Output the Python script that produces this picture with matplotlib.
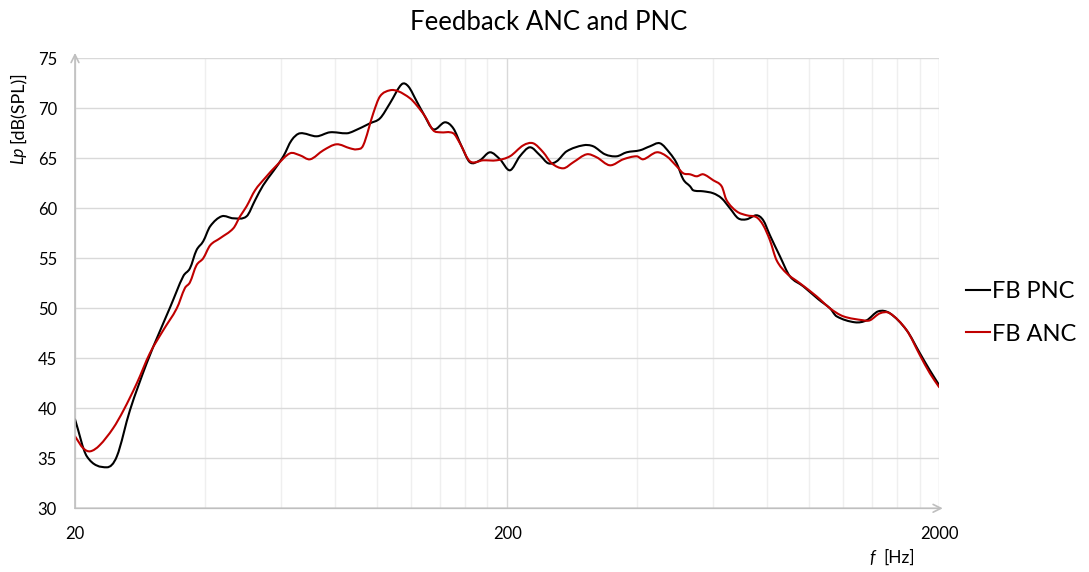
import numpy as np
import matplotlib
matplotlib.use("Agg")
import matplotlib.pyplot as plt
from matplotlib.path import Path
from matplotlib.patches import PathPatch
from matplotlib.lines import Line2D
from matplotlib.ticker import FixedLocator, NullFormatter

plt.rcParams['font.family'] = ['Lato', 'DejaVu Sans']

# Frequency response, feedback passive noise control (Hz, dB SPL)
pnc_freq = [20, 21.3, 23.7, 25.0, 26.8, 29.3, 31.5, 33.2, 35.6, 36.9, 38.2, 39.6,
            41.1, 43.7, 46.5, 49.9, 52.2, 54.5, 57.5, 60.7, 63.4, 66.3, 72.5, 77.8,
            85.1, 88.1, 96.3, 101.6, 107.1, 114.0, 118.1, 123.5, 127.9, 134.9, 143.6,
            150.1, 156.9, 164.0, 173.0, 182.5, 192.5, 203, 214, 225.8, 238.2, 249,
            260.4, 274.6, 300, 316.4, 336.8, 358.4, 378, 405.8, 428, 451.6, 476.2,
            493.6, 511, 530, 539, 568.6, 599.8, 627.2, 655.6, 685, 716.4, 755.6,
            782.8, 811.2, 855.6, 902.2, 968.6, 1050, 1117, 1157, 1276, 1358, 1445,
            1537, 1681, 1804, 1902, 2000]
pnc_level = [38.9, 35.2, 34.1, 35.2, 39.8, 44.5, 47.8, 50.1, 53.2, 54.0, 55.8, 56.7,
             58.2, 59.2, 59.0, 59.2, 60.8, 62.3, 63.7, 65.2, 66.8, 67.5, 67.2, 67.6,
             67.5, 67.7, 68.5, 69.0, 70.5, 72.4, 72.2, 70.7, 69.5, 67.9, 68.6,
             68.0, 66.2, 64.6, 64.8, 65.6, 64.9, 63.8, 65.2, 66.1, 65.3, 64.5,
             64.7, 65.7, 66.3, 66.2, 65.4, 65.2, 65.6, 65.8, 66.2, 66.5, 65.5,
             64.5, 62.9, 62.2, 61.8, 61.7, 61.5, 61.0, 60.0, 59.0, 58.9, 59.3,
             58.8, 57.3, 55.2, 53.2, 52.2, 50.9, 50.0, 49.2, 48.6, 48.8, 49.7,
             49.5, 47.8, 45.5, 43.8, 42.3]

# Frequency response, feedback active noise control (Hz, dB SPL)
anc_freq = [20, 20.9, 21.7, 22.8, 24.5, 25.9, 27.8, 29.8, 32.0, 34.4, 35.9, 36.9,
            38.2, 39.6, 41.1, 43.3, 46.5, 48.2, 49.9, 52.2, 55.0, 58.6, 62.9, 66.3,
            70.0, 75.1, 80.6, 86.6, 89.7, 92.9, 98.0, 101.6, 107.1, 112.0, 119.2,
            123.5, 129.1, 134.9, 139.8, 150.1, 155.5, 164.0, 176.1, 189.1, 203,
            218, 229.8, 242.4, 253.6, 269.8, 284.4, 305.6, 322.2, 345.8, 371.2,
            398.8, 413, 443.6, 467.8, 493.6, 511.2, 530, 549, 568.6, 599.8, 627.2,
            644, 679.2, 716.4, 755.6, 782.8, 811.2, 840.6, 886.8, 952, 1040, 1117,
            1199, 1334, 1382, 1458, 1537, 1681, 1804, 1902, 2000]
anc_level = [37.2, 36.0, 35.7, 36.3, 38.0, 39.8, 42.5, 45.5, 47.8, 50.0, 52.0, 52.6,
             54.3, 55.0, 56.3, 57.0, 58.0, 59.2, 60.2, 61.8, 63.0, 64.3, 65.5, 65.3,
             64.9, 65.8, 66.4, 66.0, 65.9, 66.3, 69.5, 71.2, 71.8, 71.7, 71.0,
             70.3, 69.2, 67.8, 67.6, 67.5, 66.5, 64.7, 64.8, 64.8, 65.2,
             66.3, 66.5, 65.6, 64.5, 64.0, 64.6, 65.4, 65.1, 64.3, 64.9,
             65.2, 64.9, 65.6, 65.2, 64.2, 63.5, 63.4, 63.2, 63.4, 62.8, 62.2,
             60.8, 59.7, 59.3, 59.1, 58.3, 56.8, 54.8, 53.5, 52.5, 51.2, 50.0,
             49.2, 48.8, 48.8, 49.5, 49.5, 47.8, 45.3, 43.5, 42.1]

series_labels = ["FB PNC", "FB ANC"]
series_colors = ["#000000", "#c00000"]

x_ticks = [20, 200, 2000]
x_minor = [40, 60, 80, 100, 120, 140, 160, 180,
           400, 600, 800, 1000, 1200, 1400, 1600, 1800]
y_ticks = list(range(30, 80, 5))


def smooth_path(freq, level):
    """Smoothed line (cubic Hermite Bezier) through the points, built in log-frequency."""
    x = np.log10(np.asarray(freq, float))
    y = np.asarray(level, float)
    n = len(x)
    m = np.empty(n)
    m[0] = (y[1] - y[0]) / (x[1] - x[0])
    m[-1] = (y[-1] - y[-2]) / (x[-1] - x[-2])
    m[1:-1] = (y[2:] - y[:-2]) / (x[2:] - x[:-2])
    verts = [(10 ** x[0], y[0])]
    codes = [Path.MOVETO]
    for i in range(n - 1):
        h = x[i + 1] - x[i]
        c1 = (x[i] + h / 3, y[i] + m[i] * h / 3)
        c2 = (x[i + 1] - h / 3, y[i + 1] - m[i + 1] * h / 3)
        verts += [(10 ** c1[0], c1[1]), (10 ** c2[0], c2[1]), (10 ** x[i + 1], y[i + 1])]
        codes += [Path.CURVE4] * 3
    return Path(verts, codes)


W, H = 1089, 572
fig = plt.figure(figsize=(W / 100, H / 100), dpi=100)
ax = fig.add_axes([75 / W, 1 - 508.3 / H, (939.3 - 75) / W, (508.3 - 58.3) / H])
ax.set_xscale('log')
ax.set_xlim(20, 2000)
ax.set_ylim(30, 75)

ax.xaxis.set_major_locator(FixedLocator(x_ticks))
ax.xaxis.set_minor_locator(FixedLocator(x_minor))
ax.xaxis.set_minor_formatter(NullFormatter())
ax.set_xticklabels([str(t) for t in x_ticks])
ax.yaxis.set_major_locator(FixedLocator(y_ticks))
ax.set_yticklabels([str(t) for t in y_ticks])

ax.grid(True, which='major', axis='y', color='#d9d9d9', lw=1.0)
ax.grid(True, which='major', axis='x', color='#d9d9d9', lw=1.0)
ax.grid(True, which='minor', axis='x', color='#efefef', lw=1.0)
ax.set_axisbelow(True)
for s in ax.spines.values():
    s.set_visible(False)
ax.tick_params(which='both', length=0)
ax.tick_params(axis='y', pad=13, labelsize=12)
ax.tick_params(axis='x', pad=13, labelsize=12)

# axis lines with arrowheads
ax.annotate('', xy=(0, 1.012), xytext=(0, 0), xycoords='axes fraction',
            arrowprops=dict(arrowstyle='->', color='#bfbfbf', lw=1.2,
                            shrinkA=0, shrinkB=0, mutation_scale=14))
ax.annotate('', xy=(1.004, 0), xytext=(0, 0), xycoords='axes fraction',
            arrowprops=dict(arrowstyle='->', color='#bfbfbf', lw=1.2,
                            shrinkA=0, shrinkB=0, mutation_scale=14))

for f, l, c in [(pnc_freq, pnc_level, series_colors[0]),
                (anc_freq, anc_level, series_colors[1])]:
    ax.add_patch(PathPatch(smooth_path(f, l), facecolor='none', edgecolor=c,
                           lw=1.5, capstyle='round', joinstyle='round', clip_on=True))

handles = [Line2D([], [], color=c, lw=1.5) for c in series_colors]
fig.legend(handles, series_labels, loc='center left',
           bbox_to_anchor=(966 / W, 1 - 313 / H), frameon=False, fontsize=17,
           handlelength=1.0, handletextpad=0.08, labelspacing=0.9, borderpad=0,
           borderaxespad=0)

fig.text(549 / W, 1 - 22 / H, "Feedback ANC and PNC", ha='center', va='center',
         fontsize=18.5)

# axis titles: italic symbol plus unit
fig.text(18 / W, 1 - 164 / H, "Lp", rotation=90, ha='center', va='bottom',
         fontsize=12.5, style='italic')
fig.text(18 / W, 1 - 143 / H, "[dB(SPL)]", rotation=90, ha='center', va='bottom',
         fontsize=13)
fig.text(872 / W, 1 - 558 / H, "f", ha='center', va='center',
         fontsize=12.5, style='italic')
fig.text(883 / W, 1 - 558 / H, "[Hz]", ha='left', va='center', fontsize=12.5)

fig.savefig("out.png", dpi=100)
